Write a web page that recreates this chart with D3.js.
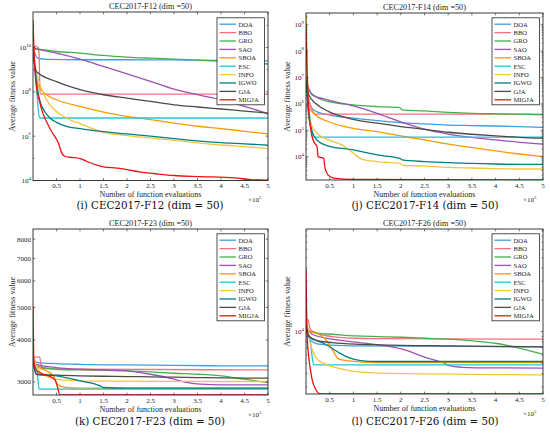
<!DOCTYPE html>
<html>
<head>
<meta charset="utf-8">
<script src="https://cdn.jsdelivr.net/npm/d3@7"></script>
<style>
  body { margin: 0; background: #fff; }
  svg { display: block; }
</style>
</head>
<body>
<svg id="chart" width="550" height="433"></svg>
<script>
// algorithm names and line colours, same order as the legend
const algorithms = ['DOA', 'BBO', 'GRO', 'SAO', 'SBOA', 'ESC', 'INFO', 'IGWO', 'GJA', 'MIGJA'];
const colors = ['#3d9fdd', '#f7707f', '#43b14b', '#9b52b4', '#ff9900', '#23c6d6', '#f6c33e', '#00807e', '#4b4b4b', '#ee1111'];

// x values are in units of 1e5 function evaluations
const xTicks = [0.5, 1, 1.5, 2, 2.5, 3, 3.5, 4, 4.5, 5];

// CEC2017-F12, series in algorithm order
const f12 = [
  [[0, 1.0e10], [0.1, 3.3e9], [0.3, 2.9e9], [1, 2.8e9], [2, 2.8e9], [3, 2.75e9], [4, 2.65e9], [5, 2.5e9]],
  [[0, 1.0e10], [0.05, 1.15e10], [0.11, 1.0e10], [0.13, 5e9], [0.15, 8e7], [5, 7.9e7]],
  [[0, 9.3e9], [0.5, 6.6e9], [1, 5.6e9], [1.5, 4.4e9], [2, 3.7e9], [2.5, 3.3e9], [3, 3.0e9], [3.5, 2.7e9], [4, 2.4e9], [4.5, 2.1e9], [5, 1.8e9]],
  [[0, 9e9], [0.5, 5.6e9], [1, 3e9], [1.5, 1.4e9], [2, 6.5e8], [2.5, 3e8], [3, 1.33e8], [3.5, 7.4e7], [4, 4.4e7], [4.5, 2.2e7], [5, 1.04e7]],
  [[0, 1e10], [0.07, 5e8], [0.14, 1.5e8], [0.29, 7.4e7], [0.5, 4.4e7], [1, 2.2e7], [1.5, 1.23e7], [2, 7.9e6], [2.5, 5.6e6], [3, 3.9e6], [3.5, 2.8e6], [4, 2.2e6], [4.5, 1.66e6], [5, 1.26e6]],
  [[0, 1e10], [0.05, 1e9], [0.1, 3e7], [0.14, 6.6e6], [5, 6.6e6]],
  [[0, 9e9], [0.07, 8.3e8], [0.14, 2.5e8], [0.25, 6.2e7], [0.36, 2.6e7], [0.5, 1.3e7], [0.71, 6.6e6], [1, 3.7e6], [1.5, 1.5e6], [2, 1.06e6], [2.5, 8.3e5], [3, 6.5e5], [3.5, 5e5], [4, 4e5], [4.5, 3.4e5], [5, 2.75e5]],
  [[0, 8e9], [0.07, 3.5e8], [0.14, 4.4e7], [0.25, 1.3e7], [0.36, 6.6e6], [0.5, 4.2e6], [0.71, 2.8e6], [1, 2.2e6], [1.5, 1.6e6], [2, 1.26e6], [2.5, 1e6], [3, 7.8e5], [3.5, 6.1e5], [4, 5.1e5], [4.5, 4.5e5], [5, 3.9e5]],
  [[0, 5e9], [0.07, 8.3e8], [0.5, 2.9e8], [1, 1.26e8], [1.5, 7.4e7], [2, 5.2e7], [2.5, 3.7e7], [3, 2.6e7], [3.5, 2.07e7], [4, 1.68e7], [4.5, 1.36e7], [5, 1.1e7]],
  [[0, 1.76e11], [0.014, 2.2e10], [0.036, 1.4e9], [0.071, 1.8e8], [0.13, 4.4e7], [0.21, 1.1e7], [0.32, 3.3e6], [0.39, 1.66e6], [0.46, 1e6], [0.54, 5e5], [0.61, 1.76e5], [0.68, 1.24e5], [0.79, 1.12e5], [1, 9.8e4], [1.14, 7.4e4], [1.36, 4.9e4], [1.5, 4.1e4], [1.79, 3.6e4], [2, 3.1e4], [2.29, 2.4e4], [2.57, 2.07e4], [3, 1.68e4], [3.57, 1.5e4], [4.29, 1.3e4], [4.64, 1.1e4], [5, 1.03e4]]
];

// CEC2017-F14
const f14 = [
  [[0, 8e6], [0.06, 1.4e6], [0.16, 5.9e5], [0.48, 3.8e5], [1, 2.9e5], [1.5, 2.34e5], [2, 1.95e5], [2.5, 1.74e5], [3, 1.58e5], [3.5, 1.51e5], [4, 1.45e5], [4.5, 1.38e5], [5, 1.29e5]],
  [[0, 8e6], [0.06, 1.5e6], [0.13, 6e5], [0.2, 4.1e5], [5, 4.1e5]],
  [[0, 8e6], [0.06, 3.4e6], [0.2, 1.9e6], [0.48, 1.23e6], [1, 9.2e5], [1.5, 7.9e5], [1.98, 7.2e5], [2.03, 5.9e5], [2.5, 5.4e5], [3, 4.8e5], [3.5, 4.4e5], [4, 4.2e5], [4.5, 4.06e5], [5, 3.8e5]],
  [[0, 8e6], [0.13, 2.2e6], [0.48, 1.4e6], [1, 8.4e5], [1.5, 4.4e5], [2, 2.1e5], [2.5, 1.1e5], [3, 7.2e4], [3.5, 5.4e4], [4, 4.3e4], [4.5, 3.5e4], [5, 3e4]],
  [[0, 2.4e9], [0.02, 5e7], [0.06, 7.9e5], [0.16, 4.4e5], [0.48, 2.1e5], [1, 1.19e5], [1.5, 8.9e4], [2, 6.1e4], [2.5, 4.3e4], [3, 3e4], [3.5, 2.2e4], [4, 1.64e4], [4.5, 1.26e4], [5, 1e4]],
  [[0, 8e6], [0.09, 2.4e5], [0.16, 5.5e4], [5, 5.5e4]],
  [[0, 8e6], [0.06, 4.4e5], [0.13, 1.38e5], [0.23, 7.7e4], [0.48, 4.3e4], [0.76, 2.8e4], [1, 1.34e4], [1.19, 7.9e3], [1.5, 6.5e3], [1.98, 5.6e3], [2.03, 4.8e3], [2.5, 4.4e3], [3, 3.9e3], [3.5, 3.7e3], [4, 3.5e3], [4.5, 3.4e3], [5, 3.4e3]],
  [[0, 8e6], [0.06, 3.3e5], [0.13, 8.9e4], [0.23, 4.3e4], [0.48, 2.5e4], [1, 1.8e4], [1.5, 1.16e4], [1.98, 8.6e3], [2.03, 7.5e3], [2.5, 6.5e3], [3, 5.9e3], [3.5, 5.6e3], [4, 5.25e3], [4.5, 5.1e3], [5, 5.1e3]],
  [[0, 6.1e6], [0.06, 2.2e6], [0.2, 1.06e6], [0.48, 5.1e5], [1, 2.6e5], [1.5, 1.85e5], [2, 1.38e5], [2.5, 1.09e5], [3, 8.4e4], [3.5, 7.05e4], [4, 6.1e4], [4.5, 5.4e4], [5, 5e4]],
  [[0, 7e8], [0.02, 2.6e7], [0.056, 5.9e5], [0.092, 1.38e5], [0.127, 5.8e4], [0.184, 3.2e4], [0.233, 2.4e4], [0.254, 1e4], [0.374, 8.6e3], [0.395, 4.2e3], [0.445, 2.3e3], [0.516, 1.74e3], [0.62, 1.5e3], [0.975, 1.38e3], [5, 1.3e3]]
];

// CEC2017-F23
const f23 = [
  [[0, 3500], [0.1, 3424], [0.5, 3401], [1, 3385], [2, 3370], [3, 3360], [4, 3350], [5, 3347]],
  [[0, 3504], [0.04, 3556], [0.14, 3556], [0.18, 3347], [0.21, 3287], [1, 3275], [5, 3257]],
  [[0, 3504], [0.07, 3347], [0.5, 3272], [1, 3257], [1.5, 3249], [2, 3234], [2.5, 3212], [3, 3183], [3.5, 3161], [4, 3126], [4.5, 3055], [5, 2986]],
  [[0, 3504], [0.07, 3385], [0.5, 3309], [1, 3272], [1.5, 3257], [2, 3234], [2.5, 3161], [2.86, 3090], [3, 3055], [3.29, 2986], [3.57, 2953], [4, 2939], [4.5, 2939], [5, 2939]],
  [[0, 3480], [0.07, 3347], [0.29, 3234], [0.43, 3126], [0.5, 2986], [0.57, 2919], [0.71, 2886], [1, 2873], [5, 2873]],
  [[0, 3424], [0.09, 3198], [0.13, 2853], [5, 2853]],
  [[0, 3585], [0.07, 3347], [0.21, 3161], [0.5, 3055], [0.71, 3034], [1, 3021], [1.5, 3014], [5, 3007]],
  [[0, 3424], [0.07, 3161], [0.5, 3126], [1, 3021], [1.43, 2919], [1.5, 2886], [2, 2873], [5, 2873]],
  [[0, 3504], [0.07, 3161], [0.5, 3140], [1, 3126], [1.5, 3118], [2, 3112], [2.5, 3105], [3, 3098], [3.5, 3090], [4, 3083], [4.5, 3080], [5, 3076]],
  [[0, 5046], [0.02, 3424], [0.06, 3272], [0.14, 3198], [0.29, 3140], [0.43, 3076], [0.47, 3041], [0.52, 2900], [0.57, 2745], [5, 2745]]
];

// CEC2017-F26
const f26 = [
  [[0, 10520], [0.056, 8780], [0.27, 7600], [1, 7320], [5, 7170]],
  [[0, 12160], [0.04, 13070], [0.09, 10520], [0.13, 10150], [0.2, 9790], [0.55, 8970], [1.05, 8650], [1.54, 8590], [5, 8470]],
  [[0, 12160], [0.056, 10150], [0.27, 9640], [0.55, 9440], [1.05, 9100], [1.54, 8970], [2.03, 8840], [2.53, 8650], [3.02, 8470], [3.52, 8160], [3.99, 7760], [4.29, 7320], [4.72, 6570], [5, 6110]],
  [[0, 11310], [0.13, 9440], [0.55, 8470], [1.05, 7950], [1.54, 7490], [2.03, 6810], [2.53, 5680], [2.88, 5100], [3.02, 4750], [3.3, 4580], [3.59, 4540], [5, 4510]],
  [[0, 12160], [0.056, 10150], [0.27, 9440], [0.41, 8470], [0.55, 6810], [0.69, 5480], [0.9, 5290], [1.47, 5100], [5, 5100]],
  [[0, 10520], [0.092, 8160], [0.127, 5890], [0.162, 4850], [5, 4850]],
  [[0, 15100], [0.056, 9100], [0.127, 6810], [0.233, 5480], [0.41, 4920], [0.76, 4410], [1.05, 4170], [1.54, 4050], [5, 3900]],
  [[0, 11310], [0.056, 9100], [0.41, 7600], [0.69, 6340], [0.9, 5680], [1.19, 5290], [1.47, 5210], [5, 5210]],
  [[0, 12160], [0.056, 9100], [0.27, 8160], [0.55, 7870], [1.05, 7600], [1.54, 7490], [3.02, 7320], [5, 7170]],
  [[0, 38700], [0.02, 9790], [0.056, 5890], [0.092, 4410], [0.127, 3550], [0.2, 2860], [0.27, 2600], [0.34, 2565], [5, 2565]]
];

// y ranges and tick values per panel
const f12YDomain = [1e4, 4e11];
const f12YMajor = [1e4, 1e6, 1e8, 1e10];
const f14YDomain = [1300, 2.8e9];
const f14YMajor = [1e4, 1e5, 1e6, 1e7, 1e8, 1e9];
const f23YDomain = [2741, 8577];
const f23YMajor = [3000, 4000, 5000, 6000, 7000, 8000];
const f26YDomain = [2565, 93700];
const f26YMajor = [1e4];

const svg = d3.select('#chart');
const ink = '#262626';
const serif = '"Liberation Serif", "Times New Roman", serif';

// minor ticks of a log axis: 2..9 x 10^n inside the domain
function logMinors(domain, everyDecade) {
  const out = [];
  const lo = Math.floor(Math.log10(domain[0]));
  const hi = Math.ceil(Math.log10(domain[1]));
  for (let e = lo; e <= hi; e++) {
    if (everyDecade) {
      out.push(Math.pow(10, e));
    } else {
      for (let m = 2; m <= 9; m++) out.push(m * Math.pow(10, e));
    }
  }
  return out.filter(v => v > domain[0] && v < domain[1]);
}

function powerLabel(sel, v) {
  sel.text('10');
  sel.append('tspan')
    .attr('dy', -3.2)
    .attr('font-size', 4.8)
    .text(Math.round(Math.log10(v)));
}

function drawPanel(p, idx) {
  const g = svg.append('g').attr('transform', `translate(${p.ox}, ${p.oy})`);

  const x = d3.scaleLinear().domain([0, 5]).range([p.left, p.right]);
  const y = d3.scaleLog().domain(p.yDomain).range([p.bottom, p.top]);

  g.append('rect')
    .attr('x', p.left).attr('y', p.top)
    .attr('width', p.right - p.left).attr('height', p.bottom - p.top)
    .attr('fill', '#fff');

  const clipId = `clip${idx}`;
  g.append('clipPath').attr('id', clipId)
    .append('rect')
    .attr('x', p.left).attr('y', p.top)
    .attr('width', p.right - p.left).attr('height', p.bottom - p.top);

  const line = d3.line()
    .x(d => x(d[0]))
    .y(d => y(d[1]))
    .curve(d3.curveMonotoneX);

  g.append('g').attr('clip-path', `url(#${clipId})`)
    .selectAll('path')
    .data(p.series)
    .join('path')
    .attr('d', line)
    .attr('fill', 'none')
    .attr('stroke', (d, i) => colors[i])
    .attr('stroke-width', 1.3)
    .attr('stroke-linejoin', 'round');

  // x ticks, inward on bottom and top
  const xt = g.append('g');
  xTicks.forEach(t => {
    xt.append('line').attr('x1', x(t)).attr('x2', x(t))
      .attr('y1', p.bottom).attr('y2', p.bottom - 2.4).attr('stroke', ink).attr('stroke-width', 0.6);
    xt.append('line').attr('x1', x(t)).attr('x2', x(t))
      .attr('y1', p.top).attr('y2', p.top + 2.4).attr('stroke', ink).attr('stroke-width', 0.6);
    xt.append('text').attr('x', x(t)).attr('y', p.bottom + 7.6)
      .attr('text-anchor', 'middle').attr('font-family', serif).attr('font-size', 7)
      .attr('fill', ink).text(t);
  });

  // y ticks
  const yt = g.append('g');
  const tick = (v, len) => {
    yt.append('line').attr('x1', p.left).attr('x2', p.left + len)
      .attr('y1', y(v)).attr('y2', y(v)).attr('stroke', ink).attr('stroke-width', 0.6);
    yt.append('line').attr('x1', p.right).attr('x2', p.right - len)
      .attr('y1', y(v)).attr('y2', y(v)).attr('stroke', ink).attr('stroke-width', 0.6);
  };
  p.yMinor.forEach(v => tick(v, 1.4));
  p.yMajor.forEach(v => {
    tick(v, 2.4);
    const t = yt.append('text').attr('x', p.left - 2).attr('y', y(v) + 2.5)
      .attr('text-anchor', 'end').attr('font-family', serif).attr('font-size', 7)
      .attr('fill', ink);
    if (p.power) powerLabel(t, v);
    else t.text(v);
  });

  // frame
  g.append('rect')
    .attr('x', p.left).attr('y', p.top)
    .attr('width', p.right - p.left).attr('height', p.bottom - p.top)
    .attr('fill', 'none').attr('stroke', ink).attr('stroke-width', 0.9);

  // title, axis labels, caption
  const cx = (p.left + p.right) / 2;
  g.append('text').attr('x', cx).attr('y', p.top - 2.8)
    .attr('text-anchor', 'middle').attr('font-family', serif).attr('font-size', 8.2)
    .attr('fill', ink).text(p.title);
  g.append('text').attr('x', cx).attr('y', p.bottom + 16.8)
    .attr('text-anchor', 'middle').attr('font-family', serif).attr('font-size', 8)
    .attr('fill', ink).text('Number of function evaluations');
  const e = g.append('text').attr('x', p.right - 20).attr('y', p.bottom + 21.5)
    .attr('font-family', serif).attr('font-size', 7).attr('fill', ink).text('\u00d710');
  e.append('tspan').attr('dy', -3).attr('font-size', 4.8).text('5');
  g.append('text')
    .attr('transform', `translate(14.5, ${(p.top + p.bottom) / 2}) rotate(-90)`)
    .attr('text-anchor', 'middle').attr('font-family', serif).attr('font-size', 8.2)
    .attr('fill', ink).text('Average fitness value');
  g.append('text').attr('x', 150).attr('y', 209.2)
    .attr('text-anchor', 'middle').attr('font-family', '"DejaVu Serif", serif').attr('font-size', 10.3)
    .attr('fill', '#111').text(p.caption);

  // legend
  const lg = g.append('g');
  lg.append('rect').attr('x', 217).attr('y', 17.8).attr('width', 47.5).attr('height', 87)
    .attr('fill', '#fff').attr('stroke', ink).attr('stroke-width', 0.8);
  algorithms.forEach((name, i) => {
    const ly = 24.2 + i * 8.4;
    lg.append('line').attr('x1', 219.5).attr('x2', 236).attr('y1', ly).attr('y2', ly)
      .attr('stroke', colors[i]).attr('stroke-width', 1.3);
    lg.append('text').attr('x', 238.5).attr('y', ly + 2.3)
      .attr('font-family', serif).attr('font-size', 6.6).attr('fill', ink).text(name);
  });
}

const panels = [
  { ox: 0, oy: 0, left: 33, right: 268, top: 12, bottom: 180.5, yDomain: f12YDomain, yMajor: f12YMajor,
    yMinor: logMinors(f12YDomain, true).filter(v => !f12YMajor.includes(v)), power: true,
    series: f12, title: 'CEC2017-F12 (dim =50)', caption: '(i) CEC2017-F12 (dim = 50)' },
  { ox: 275, oy: 0, left: 31, right: 268, top: 13, bottom: 180, yDomain: f14YDomain, yMajor: f14YMajor,
    yMinor: logMinors(f14YDomain, false), power: true,
    series: f14, title: 'CEC2017-F14 (dim =50)', caption: '(j) CEC2017-F14 (dim = 50)' },
  { ox: 0, oy: 216, left: 33, right: 268, top: 13, bottom: 179, yDomain: f23YDomain, yMajor: f23YMajor,
    yMinor: [], power: false,
    series: f23, title: 'CEC2017-F23 (dim =50)', caption: '(k) CEC2017-F23 (dim = 50)' },
  { ox: 275, oy: 216, left: 31, right: 268, top: 13, bottom: 178, yDomain: f26YDomain, yMajor: f26YMajor,
    yMinor: logMinors(f26YDomain, false), power: true,
    series: f26, title: 'CEC2017-F26 (dim =50)', caption: '(l) CEC2017-F26 (dim = 50)' }
];

panels.forEach(drawPanel);
</script>
</body>
</html>
